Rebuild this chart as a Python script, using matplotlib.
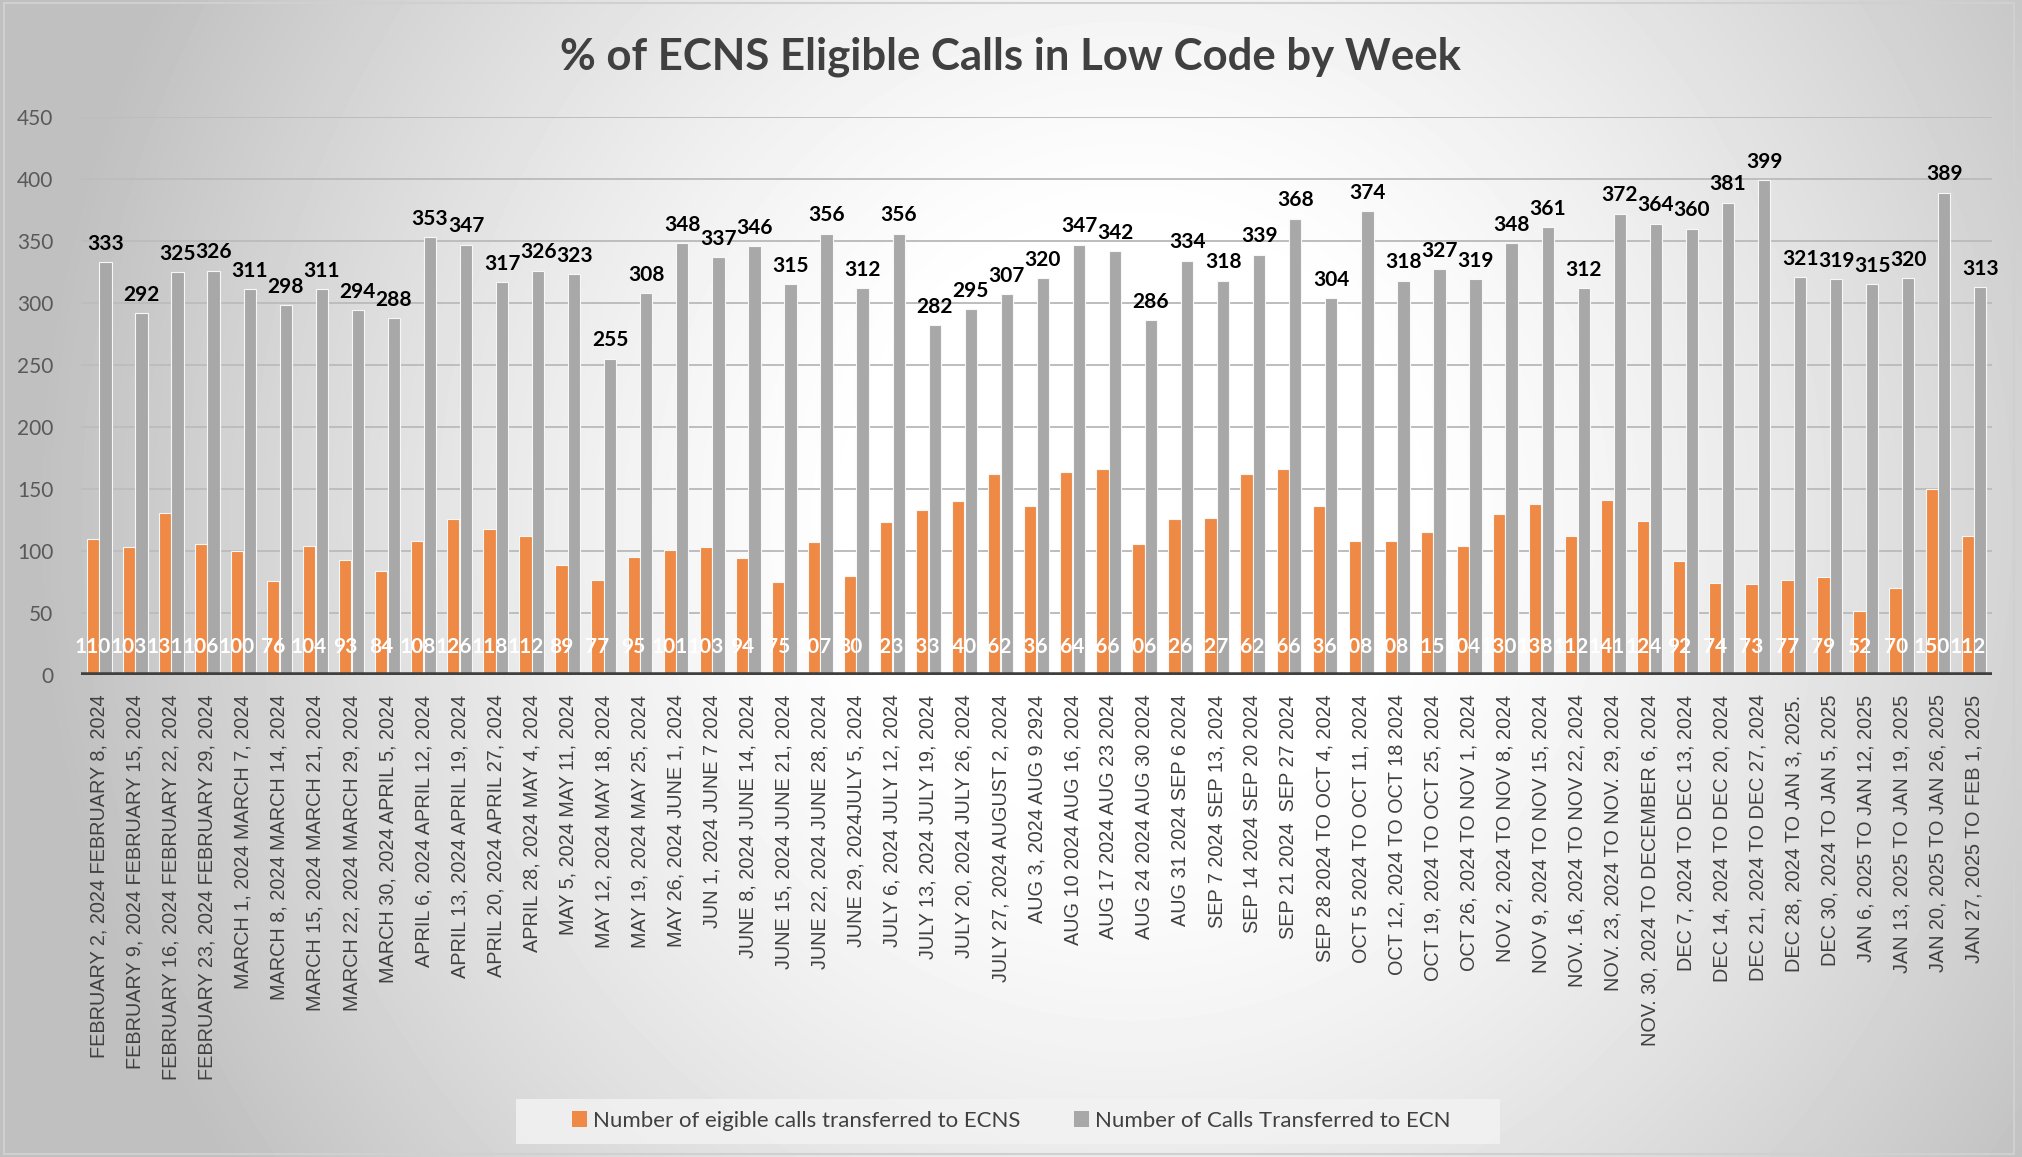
import numpy as np
import matplotlib
matplotlib.use("Agg")
import matplotlib.pyplot as plt
from matplotlib.patches import Patch, Rectangle

weeks = [
    "FEBRUARY 2, 2024 FEBRUARY 8, 2024", "FEBRUARY 9, 2024 FEBRUARY 15, 2024",
    "FEBRUARY 16, 2024 FEBRUARY 22, 2024", "FEBRUARY 23, 2024 FEBRUARY 29, 2024",
    "MARCH 1, 2024 MARCH 7, 2024", "MARCH 8, 2024 MARCH 14, 2024",
    "MARCH 15, 2024 MARCH 21, 2024", "MARCH 22, 2024 MARCH 29, 2024",
    "MARCH 30, 2024 APRIL 5, 2024", "APRIL 6, 2024 APRIL 12, 2024",
    "APRIL 13, 2024 APRIL 19, 2024", "APRIL 20, 2024 APRIL 27, 2024",
    "APRIL 28, 2024 MAY 4, 2024", "MAY 5, 2024 MAY 11, 2024",
    "MAY 12, 2024 MAY 18, 2024", "MAY 19, 2024 MAY 25, 2024",
    "MAY 26, 2024 JUNE 1, 2024", "JUN 1, 2024 JUNE 7 2024",
    "JUNE 8, 2024 JUNE 14, 2024", "JUNE 15, 2024 JUNE 21, 2024",
    "JUNE 22, 2024 JUNE 28, 2024", "JUNE 29, 2024JULY 5, 2024",
    "JULY 6, 2024 JULY 12, 2024", "JULY 13, 2024 JULY 19, 2024",
    "JULY 20, 2024 JULY 26, 2024", "JULY 27, 2024 AUGUST 2, 2024",
    "AUG 3, 2024 AUG 9 2924", "AUG 10 2024 AUG 16, 2024",
    "AUG 17 2024 AUG 23 2024", "AUG 24 2024 AUG 30 2024",
    "AUG 31 2024 SEP 6 2024", "SEP 7 2024 SEP 13, 2024",
    "SEP 14 2024 SEP 20 2024", "SEP 21 2024  SEP 27 2024",
    "SEP 28 2024 TO OCT 4, 2024", "OCT 5 2024 TO OCT 11, 2024",
    "OCT 12, 2024 TO OCT 18 2024", "OCT 19, 2024 TO OCT 25, 2024",
    "OCT 26, 2024 TO NOV 1, 2024", "NOV 2, 2024 TO NOV 8, 2024",
    "NOV 9, 2024 TO NOV 15, 2024", "NOV. 16, 2024 TO NOV 22, 2024",
    "NOV. 23, 2024 TO NOV. 29, 2024", "NOV. 30, 2024 TO DECEMBER 6, 2024",
    "DEC 7, 2024 TO DEC 13, 2024", "DEC 14, 2024 TO DEC 20, 2024",
    "DEC 21, 2024 TO DEC 27, 2024", "DEC 28, 2024 TO JAN 3, 2025.",
    "DEC 30, 2024 TO JAN 5, 2025", "JAN 6, 2025 TO JAN 12, 2025",
    "JAN 13, 2025 TO JAN 19, 2025", "JAN 20, 2025 TO JAN 26, 2025",
    "JAN 27, 2025 TO FEB 1, 2025",
]

eligible_ecns = [110, 103, 131, 106, 100, 76, 104, 93, 84, 108, 126, 118, 112,
                 89, 77, 95, 101, 103, 94, 75, 107, 80, 123, 133, 140, 162,
                 136, 164, 166, 106, 126, 127, 162, 166, 136, 108, 108, 115,
                 104, 130, 138, 112, 141, 124, 92, 74, 73, 77, 79, 52, 70,
                 150, 112]

calls_ecn = [333, 292, 325, 326, 311, 298, 311, 294, 288, 353, 347, 317, 326,
             323, 255, 308, 348, 337, 346, 315, 356, 312, 356, 282, 295, 307,
             320, 347, 342, 286, 334, 318, 339, 368, 304, 374, 318, 327, 319,
             348, 361, 312, 372, 364, 360, 381, 399, 321, 319, 315, 320, 389,
             313]

series_names = ["Number of eigible calls transferred to ECNS",
                "Number of Calls Transferred to ECN"]

orange = "#EE8A45"
grey = "#A8A8A8"
label_font = ["Lato", "DejaVu Sans"]

fig = plt.figure(figsize=(20.22, 11.57), dpi=100)

# background: soft radial grey gradient like the Excel chart area
bg = fig.add_axes([0, 0, 1, 1], zorder=-10)
gx, gy = np.meshgrid(np.linspace(0, 1, 400), np.linspace(0, 1, 240))
r = np.sqrt(((gx - 0.56) / 0.52) ** 2 + ((gy - 0.55) / 0.95) ** 2)
shade = 1 - 0.25 * np.clip((r - 0.25) / 0.8, 0, 1) ** 1.3
bg.imshow(shade, cmap="gray", vmin=0, vmax=1, extent=[0, 1, 0, 1],
          aspect="auto", origin="lower", interpolation="bilinear")
bg.add_patch(Rectangle((0.002, 0.003), 0.994, 0.994, fill=False,
                       edgecolor="#d0d0d0", lw=1.5, transform=bg.transAxes))
# legend panel
bg.add_patch(Rectangle((516 / 2022, 1 - 1144 / 1157), 984 / 2022, 45 / 1157,
                       facecolor="#f2f2f2", edgecolor="none", alpha=0.85,
                       transform=bg.transAxes))
bg.set_xlim(0, 1)
bg.set_ylim(0, 1)
bg.axis("off")

ax = fig.add_axes([0.0401, 0.4166, 0.9451, 0.4823])
ax.set_facecolor("none")

x = np.arange(len(weeks))
w = 0.34
ax.bar(x - 0.175, eligible_ecns, w, color=orange, edgecolor="#f7f7f7",
       linewidth=0.8, zorder=2)
ax.bar(x + 0.175, calls_ecn, w, color=grey, edgecolor="#f7f7f7",
       linewidth=0.8, zorder=2)

for xi, v in zip(x, calls_ecn):
    ax.annotate(str(v), (xi + 0.175, v), xytext=(0, 6),
                textcoords="offset points", ha="center", va="bottom",
                fontsize=15, fontweight="bold", color="black",
                family=label_font, zorder=4, annotation_clip=False)

for xi, v in zip(x, eligible_ecns):
    ax.annotate(str(v), (xi - 0.175, 0), xytext=(0, 20.5),
                textcoords="offset points", ha="center", va="center",
                fontsize=15, fontweight="bold", color="white",
                family=label_font, zorder=4)

ax.set_xlim(-0.5, len(weeks) - 0.5)
ax.set_ylim(0, 450)
ax.set_yticks(np.arange(0, 451, 50))
ax.yaxis.grid(True, color="#bdbdbd", lw=1.4, zorder=1)
ax.set_axisbelow(True)
ax.axhline(0, color="#404040", lw=4, zorder=3)

for s in ax.spines.values():
    s.set_visible(False)

ax.set_xticks(x)
ax.set_xticklabels(weeks, rotation=90, fontsize=14.3, color="#404040",
                   family=["Liberation Sans", "DejaVu Sans"])
ax.tick_params(axis="x", length=0, pad=14)
ax.tick_params(axis="y", length=0, pad=20, labelsize=15, labelcolor="#595959")
for t in ax.get_yticklabels():
    t.set_family(label_font)

fig.text(0.5, 1 - 57 / 1157, "% of ECNS Eligible Calls in Low Code by Week",
         ha="center", va="center", fontsize=31.5, fontweight="bold",
         color="#404040", family=label_font)

handles = [Patch(facecolor=orange, label=series_names[0]),
           Patch(facecolor=grey, label=series_names[1])]
leg = fig.legend(handles=handles, loc="center", ncol=2,
                 bbox_to_anchor=(0.5, 1 - 1121 / 1157), frameon=False,
                 handlelength=0.7, handleheight=0.7,
                 handletextpad=0.25, columnspacing=2.4,
                 prop={"family": label_font, "size": 16})
for t in leg.get_texts():
    t.set_color("#404040")

fig.savefig("out.png", dpi=100)
